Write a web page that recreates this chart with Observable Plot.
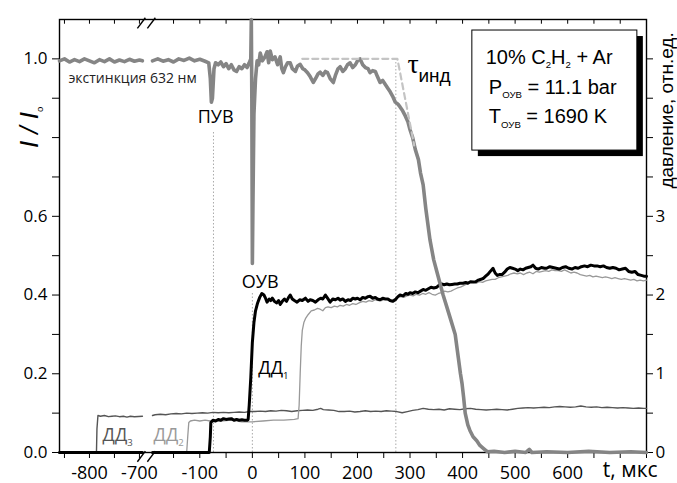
<!DOCTYPE html>
<html><head><meta charset="utf-8">
<script src="https://cdn.jsdelivr.net/npm/d3@7"></script>
<script src="https://cdn.jsdelivr.net/npm/@observablehq/plot@0.6"></script>
<style>body{margin:0;background:#fff}</style>
</head><body><div id="chart"></div>
<script>
// ---- data: time in µs, extinction as I/I0, pressure in rel. units ----
const extinction = [[-860,0.995],[-850,1.0],[-840,0.992],[-830,0.998],[-820,0.993],[-810,1.0],[-800,0.995],[-790,0.99],[-780,0.998],[-770,0.993],[-760,1.0],[-750,0.992],[-740,0.997],[-730,0.993],[-720,0.999],[-710,0.994],[-700,0.997],[-694,0.995],
[-190,0.995],[-180,1.0],[-170,0.994],[-160,0.998],[-150,0.992],[-140,1.0],[-130,0.996],[-120,1.002],[-110,0.995],[-100,0.999],[-90,0.994],[-83,0.99],[-80,0.95],[-78,0.89],[-76,0.9],[-73,0.975],[-70,0.99],[-65,0.985],[-60,0.992],[-55,0.98],[-50,0.988],[-45,0.975],[-40,0.985],[-35,0.972],[-30,0.968],[-25,0.98],[-20,0.975],[-15,0.985],[-10,0.978],[-6,0.99],[-3,1.0],[-2,1.1],[-1,0.9],[0,0.48],[1,0.62],[3,0.86],[6,0.95],[9,0.995],[12,0.985],[15,1.015],[19,0.995],[24,1.005],[28,1.018],[31,0.99],[34,1.02],[38,0.998],[43,1.005],[48,0.985],[53,1.005],[56,0.975],[59,0.965],[63,0.98],[67,0.99],[72,0.99],[76,0.975],[82,0.968],[86,0.982],[91,0.986],[96,0.975],[100,0.972],[105,0.965],[110,0.955],[116,0.94],[121,0.952],[125,0.962],[129,0.966],[134,0.958],[139,0.968],[143,0.965],[148,0.95],[154,0.94],[158,0.958],[163,0.975],[167,0.98],[172,0.968],[177,0.975],[181,0.985],[186,0.99],[191,0.978],[196,0.985],[200,0.995],[205,1.0],[210,0.985],[215,0.978],[220,0.975],[224,0.965],[229,0.97],[234,0.968],[238,0.955],[243,0.94],[248,0.945],[253,0.935],[258,0.925],[262,0.917],[267,0.905],[272,0.89],[277,0.885],[281,0.878],[286,0.868],[291,0.855],[296,0.84],[300,0.82],[305,0.8],[310,0.77],[316,0.744],[320,0.71],[325,0.68],[330,0.62],[338,0.54],[345,0.49],[351,0.46],[357,0.43],[363,0.40],[370,0.37],[378,0.335],[386,0.30],[392,0.24],[396,0.2],[399,0.175],[402,0.14],[405,0.10],[410,0.07],[414,0.056],[420,0.04],[427,0.03],[433,0.018],[440,0.01],[447,0.002],[460,0.003],[480,0.0],[500,0.003],[520,0.0],[527,0.008],[532,0.0],[560,0.002],[600,0.0],[640,0.003],[680,0.0],[720,0.002],[750,0.0]];

const dd1 = [[-860,0],[-694,0],[-190,0],[-82,0],[-80,0.2],[-79,0.38],[-75,0.41],[-70,0.40],[-65,0.42],[-60,0.41],[-55,0.43],[-50,0.42],[-45,0.425],[-40,0.43],[-35,0.41],[-30,0.42],[-25,0.41],[-20,0.415],[-15,0.41],[-10,0.41],[-8,0.42],[-6,0.6],[-3,0.95],[0,1.4],[3,1.65],[6,1.8],[10,1.9],[14,1.97],[18,2.02],[22,2.0],[25,1.96],[28,1.91],[32,1.95],[35,1.93],[38,1.96],[42,1.92],[46,1.9],[50,1.93],[53,1.88],[57,1.92],[61,1.95],[65,1.92],[69,1.97],[72,2.0],[76,1.95],[80,1.93],[85,1.91],[90,1.94],[95,1.93],[101,1.96],[106,1.92],[110,1.94],[115,1.93],[120,1.91],[125,1.94],[130,1.96],[134,1.95],[139,2.0],[143,1.96],[148,1.91],[153,1.95],[158,1.94],[163,1.96],[167,1.935],[172,1.95],[177,1.92],[182,1.94],[187,1.93],[191,1.96],[196,1.95],[200,1.96],[205,1.94],[210,1.97],[215,1.96],[220,1.98],[224,1.985],[229,1.96],[234,1.97],[238,1.95],[243,1.94],[248,1.96],[253,1.95],[258,1.95],[262,1.93],[267,1.92],[272,1.94],[277,1.98],[281,2.0],[287,1.99],[292,2.02],[296,2.01],[300,2.03],[305,2.02],[310,2.04],[315,2.03],[320,2.05],[325,2.07],[330,2.06],[335,2.08],[340,2.10],[345,2.09],[351,2.10],[356,2.13],[360,2.14],[365,2.13],[370,2.14],[375,2.13],[380,2.135],[385,2.14],[390,2.14],[395,2.15],[401,2.15],[406,2.16],[410,2.15],[415,2.17],[420,2.165],[425,2.17],[430,2.19],[435,2.2],[439,2.21],[444,2.24],[449,2.27],[454,2.31],[458,2.34],[462,2.28],[466,2.25],[470,2.26],[475,2.26],[480,2.29],[485,2.33],[490,2.35],[495,2.34],[500,2.33],[505,2.31],[510,2.33],[515,2.32],[520,2.34],[525,2.35],[530,2.36],[534,2.38],[539,2.34],[544,2.33],[550,2.35],[556,2.34],[560,2.34],[566,2.36],[572,2.35],[578,2.34],[584,2.33],[590,2.35],[596,2.36],[602,2.34],[608,2.33],[614,2.35],[620,2.34],[626,2.36],[632,2.37],[638,2.36],[644,2.38],[650,2.37],[656,2.37],[662,2.36],[668,2.37],[674,2.35],[680,2.34],[686,2.35],[692,2.34],[698,2.32],[704,2.33],[710,2.34],[716,2.30],[722,2.29],[728,2.30],[734,2.26],[740,2.25],[745,2.24],[750,2.24]];

const dd2 = [[-860,0],[-694,0],[-190,0],[-125,0],[-123,0.2],[-121,0.38],[-118,0.40],[-110,0.41],[-100,0.40],[-90,0.41],[-80,0.40],[-60,0.40],[-40,0.41],[-20,0.39],[0,0.39],[20,0.40],[40,0.41],[60,0.41],[80,0.42],[87,0.43],[89,0.6],[91,1.0],[93,1.35],[95,1.55],[98,1.65],[101,1.7],[106,1.75],[112,1.80],[118,1.81],[124,1.83],[129,1.82],[134,1.80],[139,1.84],[144,1.85],[150,1.84],[156,1.86],[162,1.85],[167,1.87],[173,1.86],[179,1.88],[185,1.87],[191,1.89],[197,1.88],[203,1.90],[210,1.92],[216,1.91],[222,1.93],[228,1.92],[234,1.94],[240,1.93],[246,1.93],[252,1.95],[258,1.94],[264,1.93],[270,1.95],[276,1.97],[282,1.98],[288,1.97],[294,1.99],[300,2.0],[306,1.99],[312,2.01],[318,2.0],[324,2.02],[330,2.01],[336,2.03],[342,2.01],[348,2.0],[354,2.02],[360,2.03],[366,2.05],[372,2.04],[378,2.05],[384,2.07],[390,2.09],[396,2.1],[402,2.12],[408,2.14],[414,2.165],[420,2.16],[426,2.15],[432,2.17],[438,2.16],[444,2.18],[450,2.19],[456,2.2],[462,2.2],[468,2.22],[474,2.23],[480,2.24],[486,2.25],[492,2.27],[498,2.28],[504,2.27],[510,2.28],[516,2.26],[522,2.28],[528,2.29],[534,2.27],[540,2.30],[546,2.29],[552,2.30],[558,2.31],[564,2.30],[570,2.32],[576,2.31],[582,2.31],[588,2.30],[594,2.32],[600,2.30],[606,2.28],[612,2.29],[618,2.28],[624,2.26],[630,2.25],[636,2.24],[642,2.25],[648,2.23],[654,2.24],[660,2.23],[666,2.22],[672,2.23],[678,2.22],[684,2.21],[690,2.22],[696,2.21],[702,2.2],[708,2.21],[714,2.2],[720,2.19],[726,2.2],[732,2.18],[738,2.19],[744,2.18],[750,2.19]];

const dd3 = [[-860,0],[-786,0],[-785,0.3],[-783,0.47],[-778,0.46],[-770,0.47],[-762,0.455],[-755,0.46],[-748,0.465],[-740,0.455],[-732,0.46],[-725,0.45],[-718,0.46],[-710,0.455],[-694,0.46],
[-190,0.47],[-185,0.48],[-175,0.485],[-165,0.48],[-155,0.49],[-145,0.495],[-135,0.49],[-125,0.5],[-115,0.495],[-105,0.5],[-95,0.505],[-85,0.5],[-75,0.51],[-65,0.505],[-55,0.51],[-45,0.505],[-35,0.51],[-25,0.515],[-15,0.51],[-5,0.52],[5,0.52],[15,0.525],[25,0.52],[35,0.53],[45,0.525],[55,0.535],[65,0.53],[75,0.52],[85,0.53],[95,0.535],[105,0.54],[115,0.535],[125,0.55],[130,0.56],[135,0.545],[145,0.54],[155,0.535],[165,0.52],[175,0.52],[185,0.525],[195,0.515],[205,0.52],[215,0.53],[225,0.52],[235,0.525],[245,0.52],[255,0.53],[265,0.525],[275,0.52],[285,0.505],[295,0.52],[305,0.535],[315,0.545],[325,0.56],[335,0.55],[345,0.545],[355,0.55],[365,0.54],[375,0.555],[385,0.55],[395,0.545],[405,0.555],[415,0.56],[425,0.55],[435,0.545],[445,0.54],[455,0.545],[465,0.55],[475,0.545],[485,0.54],[495,0.55],[505,0.56],[515,0.565],[525,0.57],[535,0.565],[545,0.57],[555,0.575],[565,0.57],[575,0.58],[585,0.585],[595,0.58],[605,0.575],[615,0.58],[625,0.59],[635,0.58],[645,0.575],[655,0.58],[665,0.57],[675,0.575],[685,0.57],[695,0.565],[705,0.57],[715,0.565],[725,0.56],[735,0.565],[745,0.56],[750,0.56]];

const tauTangent = [[95,1.0],[276,1.0],[308,0.78]];   // induction-time construction (I/I0)
const markerTimes = {puv: -74, ouv: 0, tau: 273};     // µs

const xTicksLeft = [-850,-800,-750,-700];
const xTicksMain = [-150,-100,-50,0,50,100,150,200,250,300,350,400,450,500,550,600,650,700,750];
const xTickLabels = [-800,-700,-100,0,100,200,300,400,500,600];
const yTicksLeft = [0,0.1,0.2,0.3,0.4,0.5,0.6,0.7,0.8,0.9,1.0];
const yLabelsLeft = [0,0.2,0.4,0.6,1.0];
const pTicksRight = [0,0.5,1,1.5,2,2.5,3,3.5,4,4.5,5];
const pLabelsRight = [0,1,2,3];
const P_PER_UNIT = 5;   // right axis: 1 pressure unit = 0.2 I/I0

const legendLines = ["10% C{2}H{2} + Ar", "P{ОУВ} = 11.1 bar", "T{ОУВ} = 1690 K"];

// broken time axis: left piece (-860..-690) is moved next to the main piece
const toU = t => t < -600 ? -310 + (t + 800) * 0.951 : t;
const breakU = -201.7;

const rows = (arr, k = 1) => arr.map(([t, v]) => ({u: toU(t), v: v / k, seg: t < -600 ? "L" : "M"}));

const allXTicks = [...xTicksLeft.map(toU), ...xTicksMain];
const labelSet = new Set(xTickLabels);
const leftTickRows = xTicksLeft.map(t => ({u: toU(t), label: labelSet.has(t) ? String(t) : ""}));

const breakRows = [];
for (const yb of [-0.010, 1.091]) for (const o of [-9.5, 9.5])
  breakRows.push({x1: breakU + o - 7.6, y1: yb - 0.0135, x2: breakU + o + 7.6, y2: yb + 0.0135});

const sans = "'Open Sans', sans-serif";
const arial = "'Liberation Sans', Arial, sans-serif";

const chart = Plot.plot({
  width: 677, height: 483,
  marginTop: 19, marginBottom: 31, marginLeft: 59, marginRight: 31,
  style: {fontFamily: sans, fontSize: "17px", background: "white", color: "black", overflow: "visible"},
  x: {domain: [-367, 750]},
  y: {domain: [0, 1.1]},
  marks: [
    Plot.ruleX([markerTimes.puv], {x: d => d, y1: 0, y2: 0.818, stroke: "#aaa", strokeDasharray: "1.5,2"}),
    Plot.ruleX([markerTimes.ouv], {x: d => d, y1: 0, y2: 0.405, stroke: "#aaa", strokeDasharray: "1.5,2"}),
    Plot.ruleX([markerTimes.tau], {x: d => d, y1: 0, y2: 1.0, stroke: "#aaa", strokeDasharray: "1.5,2"}),
    Plot.frame({stroke: "black", strokeWidth: 1.4}),
    Plot.axisX(leftTickRows.map(d => d.u), {anchor: "bottom", tickSize: 6, tickPadding: 8, fontSize: 18, label: null,
      tickFormat: u => (leftTickRows.find(d => d.u === u) || {label: ""}).label}),
    Plot.axisX(xTicksMain, {anchor: "bottom", tickSize: 6, tickPadding: 8, fontSize: 18, label: null,
      tickFormat: t => labelSet.has(t) ? String(t) : ""}),
    Plot.ruleX(allXTicks, {x: d => d, y1: 1.1, y2: 1.088, stroke: "black"}),
    Plot.axisY(yTicksLeft, {anchor: "left", tickSize: 7, tickPadding: 5, fontSize: 17, label: null,
      tickFormat: v => yLabelsLeft.includes(v) ? v.toFixed(1) : ""}),
    Plot.axisY(pTicksRight.map(p => p / P_PER_UNIT), {anchor: "right", tickSize: 6, tickPadding: 3, fontSize: 17, label: null,
      tickFormat: v => { const p = Math.round(v * P_PER_UNIT * 10) / 10; return pLabelsRight.includes(p) ? String(p) : ""; }}),

    Plot.line(rows(dd3, P_PER_UNIT), {x: "u", y: "v", z: "seg", stroke: "#555", strokeWidth: 1.4}),
    Plot.line(rows(dd2, P_PER_UNIT), {x: "u", y: "v", z: "seg", stroke: "#999", strokeWidth: 1.3}),
    Plot.line(rows(dd1, P_PER_UNIT), {x: "u", y: "v", z: "seg", stroke: "black", strokeWidth: 3}),
    Plot.line(rows(extinction), {x: "u", y: "v", z: "seg", stroke: "#858585", strokeWidth: 3.6}),
    Plot.line(rows(tauTangent), {x: "u", y: "v", stroke: "#c4c4c4", strokeWidth: 2.2, strokeDasharray: "6,4"}),

    Plot.link(breakRows, {x1: "x1", y1: "y1", x2: "x2", y2: "y2", stroke: "black", strokeWidth: 1.4}),

    // annotations
    Plot.text(["экстинкция 632 нм"], {x: -350, y: 0.950, textAnchor: "start", fontSize: 14, fill: "#222"}),
    Plot.text(["ПУВ"], {x: -70, y: 0.851, fontSize: 18}),
    Plot.text(["ОУВ"], {x: 15, y: 0.432, fontSize: 18}),
    Plot.text(["ДД{1}"], {x: 11.4, y: 0.213, textAnchor: "start", fontSize: 18}),
    Plot.text(["ДД{3}"], {x: -285, y: 0.043, textAnchor: "start", fontSize: 18, fill: "#555"}),
    Plot.text(["ДД{2}"], {x: -188, y: 0.043, textAnchor: "start", fontSize: 18, fill: "#999"}),
    Plot.text(["τ"], {x: 295, y: 0.965, textAnchor: "start", lineAnchor: "bottom", fontSize: 28, fontFamily: "'Liberation Serif', serif"}),
    Plot.text(["инд"], {x: 316, y: 0.94, textAnchor: "start", lineAnchor: "bottom", fontSize: 19, fontFamily: arial}),
    Plot.text(["t, мкс"], {x: 719, y: -0.063, textAnchor: "middle", lineAnchor: "bottom", fontSize: 21}),
    Plot.text(["давление, отн.ед."], {x: 788, y: 0.869, rotate: -90, fontSize: 19, fontFamily: arial}),
    Plot.text(["I / I{o}"], {x: -424, y: 0.826, rotate: -90, fontSize: 26, fontStyle: "italic", fontFamily: arial}),

    Plot.rect([0], {x1: 418.6, x2: 732.6, y1: 0.767, y2: 1.072, fill: "black", dx: 6, dy: 6}),
    Plot.rect([0], {x1: 418.6, x2: 732.6, y1: 0.767, y2: 1.072, fill: "white", stroke: "black", strokeWidth: 1}),
    Plot.text(legendLines, {x: (d, i) => i === 0 ? 444 : 450, y: (d, i) => [0.988, 0.912, 0.836][i],
      textAnchor: "start", lineAnchor: "bottom", fontSize: 20, fontFamily: arial})
  ]
});

// subscripts written as {..}
d3.select(chart).selectAll("text").each(function () {
  const s = this.textContent;
  if (!s.includes("{")) return;
  const fs = parseFloat(getComputedStyle(this).fontSize) || 16;
  const parts = s.split(/\{([^}]*)\}/);
  this.textContent = "";
  const shift = fs * 0.3;
  let down = false;
  parts.forEach((p, i) => {
    if (!p) return;
    const ts = d3.select(this).append("tspan").text(p);
    if (i % 2 === 1) {
      ts.attr("font-size", fs * 0.6).attr("dy", down ? 0 : shift).attr("font-style", "normal");
      down = true;
    } else {
      if (down) ts.attr("dy", -shift);
      down = false;
    }
  });
});

document.getElementById("chart").appendChild(chart);
</script></body></html>
